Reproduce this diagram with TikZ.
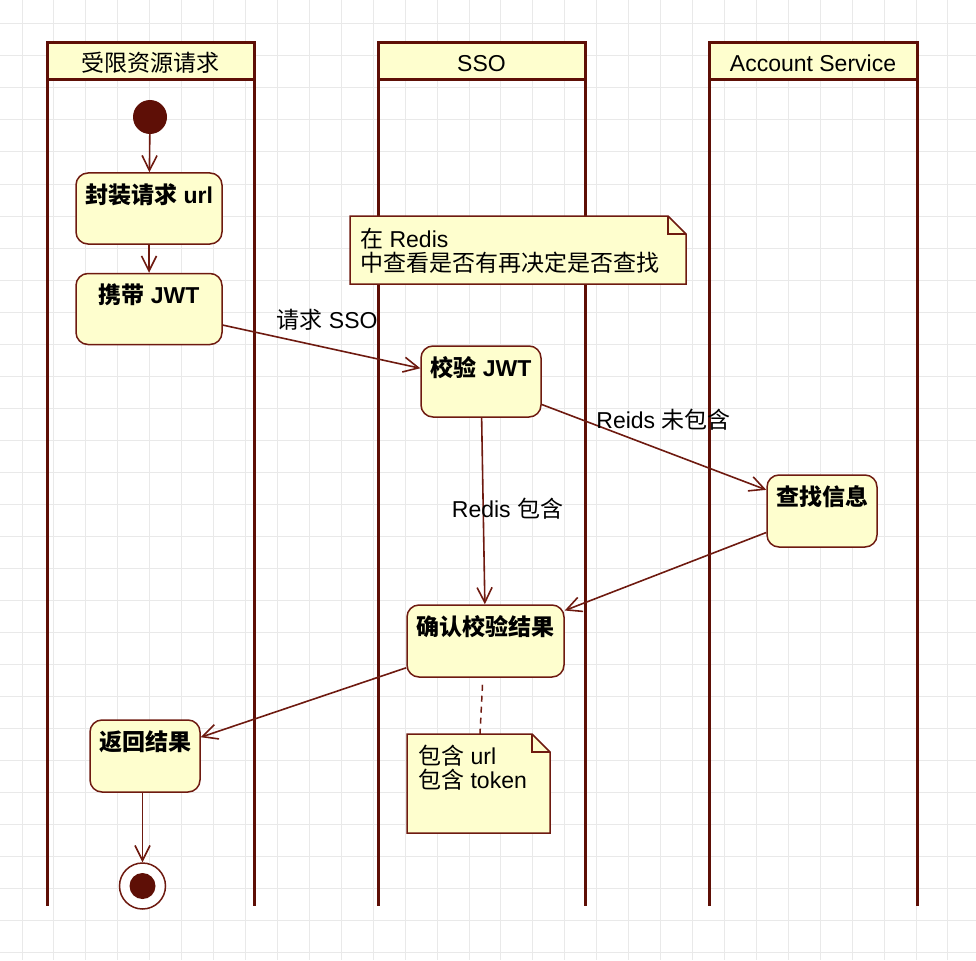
\documentclass[tikz,border=0pt]{standalone}
\usepackage{fontspec}
\setmainfont{Liberation Sans}
\newfontfamily\cjk{Noto Sans CJK SC}
\usetikzlibrary{arrows.meta}
\definecolor{dk}{HTML}{5E0F06}
\definecolor{bd}{HTML}{6E1A10}
\definecolor{pale}{HTML}{FEFECE}
\definecolor{gridc}{HTML}{E9E9E9}
\begin{document}
\begin{tikzpicture}[x=1pt,y=-1pt,
  txt/.style={font=\fontsize{23pt}{24pt}\selectfont},
  act/.style={draw=bd, fill=pale, line width=1.5pt, rounded corners=12pt,
    inner xsep=0pt, inner ysep=0pt, text height=30pt, text depth=41pt,
    font=\fontsize{23pt}{24pt}\selectfont\bfseries},
  lanehead/.style={draw=dk, fill=pale, line width=3pt, minimum height=37pt,
    minimum width=207pt, inner sep=0pt, outer sep=0pt, text height=29pt, text depth=8pt, txt},
  laneline/.style={draw=dk, line width=3pt},
  flow/.style={draw=bd, line width=1.6pt,
    -{Straight Barb[length=15pt,width=15pt,line width=1.6pt]}},
  lbl/.style={txt, inner sep=0pt},
  notebg/.style={draw=none, inner sep=0pt, outer sep=0pt},
  noteline/.style={draw=bd, fill=pale, line width=1.5pt, line join=miter},
  notetxt/.style={txt, inner sep=0pt, anchor=base west},
]
\useasboundingbox (0,0) rectangle (976,960);
% grid
\foreach \i in {0,...,29} \draw[gridc, line width=1pt] ({22+31.93*\i},0) -- ({22+31.93*\i},960);
\foreach \j in {0,...,29} \draw[gridc, line width=1pt] (0,{24+32*\j}) -- (976,{24+32*\j});

% swimlanes
\node[lanehead] (h1) at (150.5,61.5) {{\cjk 受限资源请求}};
\node[lanehead] (h2) at (481.5,61.5) {SSO};
\node[lanehead, minimum width=208pt] (h3) at (813,61.5) {Account Service};
\coordinate (b1l) at (47,906);  \coordinate (b1r) at (254,906);
\coordinate (b2l) at (378,906); \coordinate (b2r) at (585,906);
\coordinate (b3l) at (709,906); \coordinate (b3r) at (917,906);
\draw[laneline] (h1.north west) -- (b1l);
\draw[laneline] (h1.north east) -- (b1r);
\draw[laneline] (h2.north west) -- (b2l);
\draw[laneline] (h2.north east) -- (b2r);
\draw[laneline] (h3.north west) -- (b3l);
\draw[laneline] (h3.north east) -- (b3r);

% note 1
\node[notebg, minimum width=336pt, minimum height=68pt] (n1) at (518,250) {};
\draw[noteline] (n1.north west) -- ([xshift=-18pt]n1.north east) -- ([yshift=-18pt]n1.north east)
  -- (n1.south east) -- (n1.south west) -- cycle;
\draw[noteline, fill=none] ([xshift=-18pt]n1.north east) -- ([xshift=-18pt,yshift=-18pt]n1.north east) -- ([yshift=-18pt]n1.north east);
\node[notetxt] (n1a) at (360,247) {{\cjk 在} Redis};
\node[notetxt] (n1b) at (360,271) {{\cjk 中查看是否有再决定是否查找}};

% start / end
\node[circle, fill=dk, minimum size=34pt, inner sep=0pt] (start) at (150,117) {};
\node[circle, draw=bd, fill=white, line width=1.5pt, minimum size=46pt, inner sep=0pt] (stop) at (142.5,886) {};
\fill[dk] (stop.center) circle (13pt);

% activities
\node[act, minimum width=146pt, text depth=41pt] (wrap) at (149,208.5) {{\cjk 封装请求} url};
\node[act, minimum width=146pt, text depth=41pt] (carry) at (149,309) {{\cjk 携带} JWT};
\node[act, minimum width=120pt, text depth=41pt] (verify) at (481,381.5) {{\cjk 校验} JWT};
\node[act, minimum width=110pt, text depth=42pt] (find) at (822,511) {{\cjk 查找信息}};
\node[act, minimum width=157pt, text depth=42pt] (confirm) at (485.5,641) {{\cjk 确认校验结果}};
\node[act, minimum width=110pt, text depth=42pt] (ret) at (145,756) {{\cjk 返回结果}};

% note 2
\node[notebg, minimum width=143pt, minimum height=99pt] (n2) at (478.5,783.5) {};
\draw[noteline] (n2.north west) -- ([xshift=-18pt]n2.north east) -- ([yshift=-18pt]n2.north east)
  -- (n2.south east) -- (n2.south west) -- cycle;
\draw[noteline, fill=none] ([xshift=-18pt]n2.north east) -- ([xshift=-18pt,yshift=-18pt]n2.north east) -- ([yshift=-18pt]n2.north east);
\node[notetxt] (n2a) at (418,764) {{\cjk 包含} url};
\node[notetxt] (n2b) at (418,788) {{\cjk 包含} token};
\draw[draw=bd, line width=1.5pt, dash pattern=on 6pt off 5pt] ([xshift=-3pt,yshift=-7pt]confirm.south) -- ([xshift=1.5pt]n2.north);

% flows
\draw[flow] (start) -- (wrap);
\draw[flow] (wrap) -- (carry);
\draw[flow] (carry) -- (verify);
\draw[flow] (verify) -- (find);
\draw[flow] (verify) -- (confirm);
\draw[flow] (find) -- (confirm);
\draw[flow] (confirm) -- (ret);
\draw[flow] (ret.south -| stop.center) -- (stop);

% labels
\node[lbl] (l1) at (327,320) {{\cjk 请求} SSO};
\node[lbl] (l2) at (663.5,420) {Reids {\cjk 未包含}};
\node[lbl] (l3) at (507.5,509) {Redis {\cjk 包含}};
\end{tikzpicture}
\end{document}
